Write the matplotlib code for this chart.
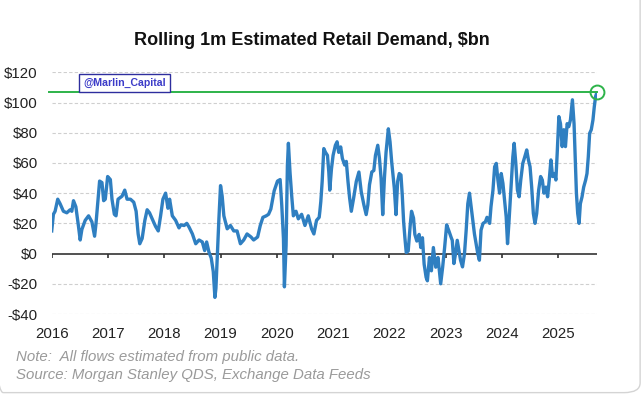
import matplotlib

matplotlib.use("Agg")
import matplotlib.pyplot as plt
from matplotlib.patches import FancyBboxPatch

plt.rcParams["font.family"] = ["Liberation Sans", "DejaVu Sans"]

# --- data ---------------------------------------------------------------
# decimal years / rolling 1m retail demand ($bn)
dates = [
    2016.000, 2016.030, 2016.060, 2016.107, 2016.149, 2016.208, 2016.268, 2016.327,
    2016.357, 2016.387, 2016.429, 2016.476, 2016.506, 2016.536, 2016.595, 2016.655,
    2016.714, 2016.762, 2016.786, 2016.833, 2016.851, 2016.893, 2016.923, 2016.952,
    2016.994, 2017.042, 2017.071, 2017.113, 2017.143, 2017.179, 2017.250, 2017.298,
    2017.339, 2017.399, 2017.458, 2017.500, 2017.536, 2017.565, 2017.607, 2017.655,
    2017.696, 2017.738, 2017.786, 2017.845, 2017.893, 2017.935, 2017.976, 2018.024,
    2018.065, 2018.095, 2018.143, 2018.202, 2018.262,
    2018.294, 2018.353, 2018.400, 2018.441, 2018.500, 2018.559, 2018.618, 2018.676,
    2018.718, 2018.753, 2018.794, 2018.835, 2018.871, 2018.900, 2018.918, 2018.941,
    2018.971, 2019.000, 2019.029, 2019.059, 2019.118, 2019.176, 2019.235, 2019.294,
    2019.353, 2019.412, 2019.471, 2019.541, 2019.588, 2019.659, 2019.706, 2019.753,
    2019.812, 2019.853, 2019.894, 2019.953, 2020.012, 2020.059, 2020.088, 2020.118,
    2020.135, 2020.165, 2020.188, 2020.206, 2020.235, 2020.265, 2020.294, 2020.341,
    2020.382, 2020.441, 2020.500, 2020.559, 2020.618, 2020.659, 2020.706, 2020.753,
    2020.765, 2020.782, 2020.806, 2020.835, 2020.865, 2020.900, 2020.924, 2020.941,
    2020.971, 2021.000, 2021.041, 2021.071, 2021.100, 2021.135, 2021.165, 2021.206,
    2021.235, 2021.265, 2021.294, 2021.324, 2021.365, 2021.412, 2021.459, 2021.500,
    2021.547, 2021.588, 2021.618, 2021.647, 2021.688, 2021.724, 2021.753, 2021.794,
    2021.824, 2021.853, 2021.882, 2021.912, 2021.941, 2021.982, 2022.012, 2022.041,
    2022.065, 2022.088, 2022.118, 2022.147, 2022.176, 2022.206, 2022.229, 2022.253,
    2022.276, 2022.300, 2022.335, 2022.371, 2022.394, 2022.429, 2022.453, 2022.488,
    2022.529, 2022.559, 2022.588, 2022.618, 2022.653, 2022.676, 2022.712, 2022.747,
    2022.782, 2022.824, 2022.865, 2022.912, 2022.947, 2022.982, 2023.018, 2023.059,
    2023.100,
    2023.118, 2023.147, 2023.176, 2023.206, 2023.235, 2023.265, 2023.300, 2023.335,
    2023.365, 2023.394, 2023.424, 2023.453, 2023.482, 2023.512, 2023.541, 2023.571,
    2023.600, 2023.629, 2023.665, 2023.706, 2023.735, 2023.782, 2023.806, 2023.841,
    2023.871, 2023.900, 2023.929, 2023.959, 2023.988, 2024.018, 2024.047, 2024.076,
    2024.100, 2024.124, 2024.159, 2024.194, 2024.218, 2024.247, 2024.276, 2024.306,
    2024.335, 2024.371, 2024.406, 2024.441, 2024.471, 2024.500, 2024.529, 2024.559,
    2024.588, 2024.618, 2024.653, 2024.688, 2024.718, 2024.747, 2024.782, 2024.812,
    2024.841, 2024.871, 2024.900, 2024.935, 2024.959, 2024.982, 2025.012, 2025.041,
    2025.071, 2025.100, 2025.129, 2025.159, 2025.188, 2025.218, 2025.253, 2025.282,
    2025.306, 2025.324, 2025.347, 2025.371, 2025.394, 2025.424, 2025.453, 2025.488,
    2025.512, 2025.535, 2025.559, 2025.588, 2025.618, 2025.641, 2025.665, 2025.682,
]
demand = [
    15, 26, 28, 36, 33, 28, 27, 29,
    28, 35, 31, 18, 9, 16, 22, 25,
    21, 11.5, 19.5, 40, 48, 47, 35, 36,
    51, 49, 36, 26, 25, 36, 38, 42,
    36, 36, 34, 28, 13, 6.5, 10, 22,
    29, 27, 23, 18, 15, 25, 36, 40,
    30, 36, 25, 22, 17,
    19, 18.6, 20, 17.5, 13, 6.5, 9, 7.7,
    2, 7.7, 1, -3, -12, -29, -23, -3,
    23, 45, 38, 25, 16.4, 18.6, 15, 15,
    6.5, 9, 13, 11, 9, 11, 18.6, 24,
    25, 26, 29.5, 41.5, 48, 49, 32, 10,
    -22, 5.5, 58, 73, 53.6, 38, 25, 28,
    23, 26, 18.6, 25, 16.4, 13, 22, 24,
    28, 34.5, 47.7, 69.5, 67, 65, 54, 42,
    56, 65, 71.7, 74, 67, 70.6, 63, 58.6,
    61, 47.7, 36.7, 28, 36.7, 47.7, 54, 41,
    32.3, 25.8, 32.3, 45.5, 54, 55, 65, 71.7,
    63, 49.8, 25.8, 49.8, 67, 82.6, 74, 60.8,
    52, 43.3, 25.8, 47.7, 53, 52, 39, 21.4,
    10.5, 0.7, 1.7, 19, 28, 23.6, 12.7, 8.3,
    12.7, 4, 10.5, -7, -15.7, -18, -2.6, -11.4,
    4, -9, -2.6, -20, -9, 4, 19, 14.9,
    10.5,
    8.8, -6.6, 0, 8.8, 2.2, -4.4, -8.8, 0,
    15.5, 33, 40, 31, 22, 13, 6.6, 0,
    -4.4, 15.5, 20, 21, 24, 20, 31, 42,
    57.5, 59.7, 48.7, 40, 53, 46.5, 35.4, 24.3,
    6.6, 20, 42, 64, 73, 59.7, 42, 37.6,
    48.7, 59.7, 64, 68.6, 62, 57.5, 44, 26.5,
    20, 26.5, 42, 51, 48.7, 40, 44, 37.6,
    48.7, 62, 51, 53, 48.7, 66, 90.7, 86,
    70.8, 82, 70.8, 86, 84, 88.5, 101.8, 86,
    59.7, 40, 26.5, 20, 33, 37.6, 44, 48.7,
    53, 64, 79.6, 82, 88.5, 97, 104, 106,
]

year_ticks = list(range(2016, 2026))
year_labels = [str(y) for y in year_ticks]
y_ticks = [-40, -20, 0, 20, 40, 60, 80, 100, 120]
y_labels = ["-$40", "-$20", "$0", "$20", "$40", "$60", "$80", "$100", "$120"]
high_mark = 106.8

LINE_BLUE = "#2F7FC1"
GREEN = "#2DB34A"


def main() -> None:
    fig = plt.figure(figsize=(6.44, 3.95), dpi=100)
    fig.patch.set_facecolor("white")

    # card border (rounded, light grey)
    card = FancyBboxPatch(
        (-0.02, 0.006), 1.014, 1.05,
        boxstyle="round,pad=0,rounding_size=0.025",
        transform=fig.transFigure, facecolor="none",
        edgecolor="#d4d4d4", linewidth=1.0, zorder=0,
    )
    fig.patches.append(card)

    ax = fig.add_axes([0.0803, 0.205, 0.8463, 0.612])
    ax.set_xlim(2016, 2025.685)
    ax.set_ylim(-40, 120)

    for s in ax.spines.values():
        s.set_visible(False)

    # dashed grid
    for v in y_ticks:
        if v == 0:
            continue
        ax.axhline(v, color="#cfcfcf", lw=0.8, ls=(0, (3, 2)), zorder=1)

    # zero axis with downward ticks
    ax.axhline(0, color="#333333", lw=1.2, zorder=2)
    ax.vlines(year_ticks, -2.7, 0, color="#333333", lw=1.2, zorder=2)

    ax.plot(dates, demand, color=LINE_BLUE, lw=2.4, zorder=3,
            solid_joinstyle="round")

    # highlight line + circle
    ax.plot([2015.95, dates[-1]], [high_mark, high_mark], color=GREEN,
            lw=1.4, clip_on=False, zorder=4)
    ax.plot([dates[-1]], [high_mark], marker="o", ms=10, mfc="none",
            mec=GREEN, mew=1.4, clip_on=False, zorder=5)

    ax.set_xticks(year_ticks)
    ax.set_xticklabels(year_labels, fontsize=10.8, color="#222222")
    ax.set_yticks(y_ticks)
    ax.set_yticklabels(y_labels, fontsize=10.8, color="#222222")
    ax.tick_params(axis="both", length=0)
    ax.tick_params(axis="x", pad=9)
    ax.tick_params(axis="y", pad=10)

    fig.text(0.485, 0.897, "Rolling 1m Estimated Retail Demand, $bn",
             ha="center", va="center", fontsize=13, fontweight="bold",
             color="#111111")

    fig.text(124.5 / 644, 1 - 83 / 395, "@Marlin_Capital", ha="center",
             va="center", fontsize=7.6, fontweight="bold", color="#3c3cc8",
             bbox=dict(boxstyle="square,pad=0.35", facecolor="white",
                       edgecolor="#2e2e9e", linewidth=1.0))

    fig.text(16 / 644, 1 - 357 / 395, "Note:  All flows estimated from public data.",
             ha="left", va="center", fontsize=10.8, style="italic", color="#9a9a9a")
    fig.text(16 / 644, 1 - 375 / 395, "Source: Morgan Stanley QDS, Exchange Data Feeds",
             ha="left", va="center", fontsize=10.8, style="italic", color="#9a9a9a")

    fig.savefig("out.png", dpi=100)
    plt.close(fig)
    print("[saved] out.png")


if __name__ == "__main__":
    main()
